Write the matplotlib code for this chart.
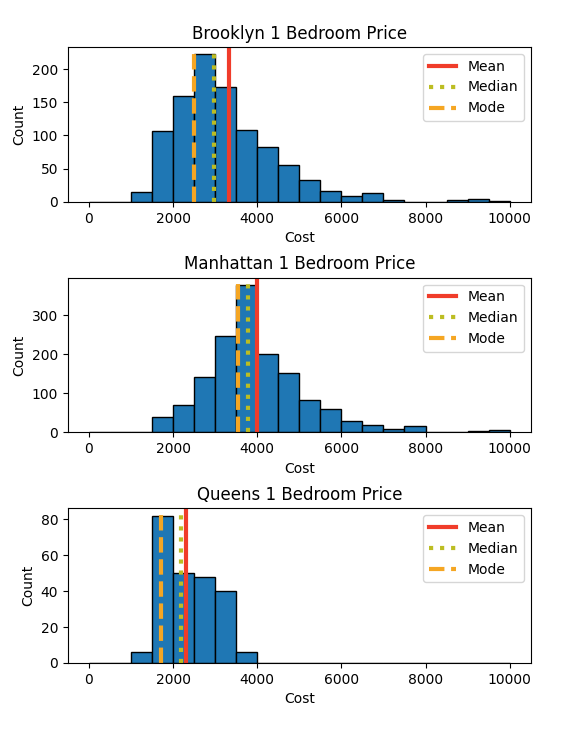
import numpy as np
import matplotlib.pyplot as plt

edges = np.arange(0, 10001, 500)

boroughs = ["Brooklyn", "Manhattan", "Queens"]
counts = {
    "Brooklyn": [0, 0, 15, 106, 159, 222, 173, 108, 82, 56, 33, 16, 9, 13, 2, 0, 0, 3, 4, 1],
    "Manhattan": [0, 0, 2, 40, 70, 143, 248, 378, 200, 153, 84, 60, 30, 18, 8, 16, 0, 2, 3, 5],
    "Queens": [0, 0, 6, 82, 50, 48, 40, 6, 0, 0, 0, 0, 0, 0, 0, 0, 0, 0, 0, 0],
}
means = {"Brooklyn": 3320, "Manhattan": 3990, "Queens": 2310}
medians = {"Brooklyn": 2975, "Manhattan": 3780, "Queens": 2180}
modes = {"Brooklyn": 2500, "Manhattan": 3550, "Queens": 1720}

fig, axes = plt.subplots(3, 1, figsize=(5.75, 7.35))
fig.subplots_adjust(left=0.118, right=0.923, top=0.936, bottom=0.098, hspace=0.49)
for ax, b in zip(axes, boroughs):
    ax.hist(edges[:-1], bins=edges, weights=counts[b], color="#1f77b4", edgecolor="black")
    ax.axvline(means[b], color="#f03c2a", linewidth=3, label="Mean")
    ax.axvline(medians[b], color="#bcbd22", linewidth=3, linestyle=":", label="Median")
    ax.axvline(modes[b], color="#f5a623", linewidth=3, linestyle="--", label="Mode")
    ax.set_title(f"{b} 1 Bedroom Price")
    ax.set_xlabel("Cost")
    ax.set_ylabel("Count")
    ax.legend(loc="upper right")
fig.savefig("out.png", dpi=100)
